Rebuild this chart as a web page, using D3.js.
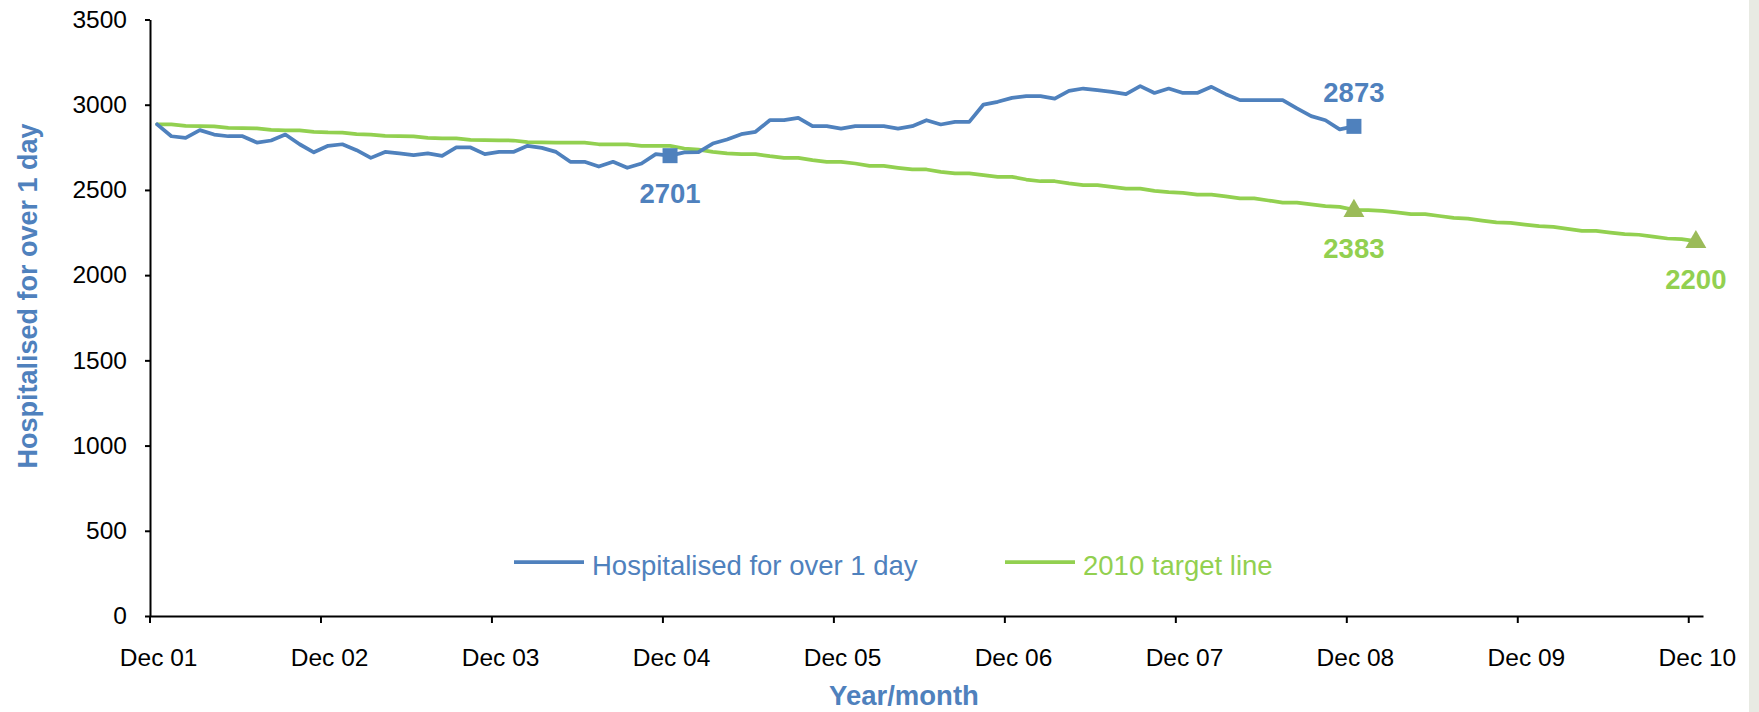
<!DOCTYPE html>
<html>
<head>
<meta charset="utf-8">
<script src="https://cdn.jsdelivr.net/npm/d3@7"></script>
<style>
  body { margin: 0; background: #fff; }
  svg { display: block; font-family: "Liberation Sans", Arial, sans-serif; }
</style>
</head>
<body>
<svg id="chart" width="1759" height="712"></svg>
<script>
// months Dec 01 .. Dec 10 (109 monthly categories)
const tickIndex = [0, 12, 24, 36, 48, 60, 72, 84, 96, 108];
const tickLabels = ["Dec 01", "Dec 02", "Dec 03", "Dec 04", "Dec 05", "Dec 06", "Dec 07", "Dec 08", "Dec 09", "Dec 10"];
const yTicks = [0, 500, 1000, 1500, 2000, 2500, 3000, 3500];

const hospitalised = [
  2885, 2815, 2806, 2851, 2825, 2815, 2815, 2778, 2790, 2825, 2768, 2721,
  2759, 2768, 2733, 2688, 2723, 2714, 2704, 2714, 2700, 2749, 2749, 2710,
  2723, 2723, 2759, 2747, 2723, 2665, 2665, 2637, 2665, 2630, 2655, 2710,
  2701, 2720, 2722, 2772, 2796, 2827, 2841, 2909, 2909, 2923, 2874, 2874,
  2860, 2874, 2874, 2874, 2860, 2874, 2909, 2884, 2899, 2899, 3001, 3017,
  3040, 3050, 3050, 3036, 3081, 3095, 3085, 3075, 3062, 3109, 3069, 3095,
  3069, 3069, 3105, 3062, 3027, 3027, 3027, 3027, 2978, 2933, 2909, 2855,
  2873
];

const target = [
  2885, 2884, 2876, 2874, 2873, 2864, 2862, 2861, 2852, 2850, 2849, 2840,
  2837, 2836, 2827, 2825, 2817, 2815, 2814, 2805, 2803, 2802, 2794, 2792,
  2791, 2790, 2781, 2779, 2778, 2778, 2777, 2768, 2768, 2767, 2759, 2759,
  2758, 2743, 2737, 2723, 2714, 2710, 2710, 2698, 2688, 2688, 2675, 2665,
  2665, 2655, 2641, 2641, 2630, 2620, 2620, 2606, 2597, 2597, 2587, 2577,
  2577, 2561, 2551, 2551, 2538, 2528, 2528, 2518, 2508, 2508, 2495, 2487,
  2483, 2473, 2473, 2462, 2450, 2450, 2438, 2426, 2426, 2415, 2405, 2401,
  2383, 2381, 2377, 2368, 2358, 2358, 2347, 2336, 2332, 2320, 2309, 2307,
  2297, 2288, 2283, 2272, 2260, 2260, 2250, 2241, 2237, 2226, 2215, 2211,
  2200
];

// highlighted points: month index and value
const hospMarkIndex = [36, 84];
const hospMarkValue = [2701, 2873];
const targetMarkIndex = [84, 108];
const targetMarkValue = [2383, 2200];

const seriesNames = ["Hospitalised for over 1 day", "2010 target line"];

const blue = "#4f81bd";
const green = "#92d050";
const olive = "#9bbb59";
const font = "\"Liberation Sans\", Arial, sans-serif";

const svg = d3.select("#chart");

svg.append("rect")
    .attr("x", 1749).attr("y", 0)
    .attr("width", 10).attr("height", 712)
    .attr("fill", "#e8eae3");

const x = d3.scaleBand()
    .domain(d3.range(target.length))
    .range([150, 1703]);
const bw = x.bandwidth();
const cx = i => x(i) + bw / 2;

const y = d3.scaleLinear()
    .domain([0, 3500])
    .range([616, 19.5]);

// y axis
const yAxis = svg.append("g")
    .attr("transform", "translate(150,0)")
    .call(d3.axisLeft(y)
        .tickValues(yTicks)
        .tickFormat(d3.format("d"))
        .tickSize(5)
        .tickSizeOuter(0)
        .tickPadding(18));
yAxis.select(".domain").attr("stroke", "#000").attr("stroke-width", 2);
yAxis.selectAll(".tick line").attr("stroke", "#000").attr("stroke-width", 2);
yAxis.selectAll(".tick text")
    .attr("font-family", font)
    .attr("font-size", "24.5px")
    .attr("fill", "#000");

// x axis
const xAxis = svg.append("g")
    .attr("transform", "translate(0,616)")
    .call(d3.axisBottom(x)
        .tickValues(tickIndex)
        .tickFormat((d, k) => tickLabels[k])
        .tickSize(7)
        .tickSizeOuter(0));
xAxis.select(".domain").attr("stroke", "#000").attr("stroke-width", 2);
xAxis.selectAll(".tick line")
    .attr("x1", -bw / 2).attr("x2", -bw / 2)
    .attr("stroke", "#000").attr("stroke-width", 2);
xAxis.selectAll(".tick text")
    .attr("y", 50).attr("dy", 0).attr("dx", 1.5)
    .attr("font-family", font)
    .attr("font-size", "24.5px")
    .attr("fill", "#000");

// axis titles
svg.append("text")
    .attr("transform", "translate(37,296) rotate(-90)")
    .attr("text-anchor", "middle")
    .attr("font-family", font)
    .attr("font-weight", "bold")
    .attr("font-size", "27px")
    .attr("fill", blue)
    .text("Hospitalised for over 1 day");

svg.append("text")
    .attr("x", 904).attr("y", 705)
    .attr("text-anchor", "middle")
    .attr("font-family", font)
    .attr("font-weight", "bold")
    .attr("font-size", "27.5px")
    .attr("fill", blue)
    .text("Year/month");

// lines
const line = d3.line()
    .x((d, i) => cx(i))
    .y(d => y(d));

svg.append("path")
    .datum(target)
    .attr("d", line)
    .attr("fill", "none")
    .attr("stroke", green)
    .attr("stroke-width", 3.75)
    .attr("stroke-linejoin", "round")
    .attr("stroke-linecap", "round");

svg.append("path")
    .datum(hospitalised)
    .attr("d", line)
    .attr("fill", "none")
    .attr("stroke", blue)
    .attr("stroke-width", 3.75)
    .attr("stroke-linejoin", "round")
    .attr("stroke-linecap", "round");

// markers + labels
const sq = d3.symbol().type(d3.symbolSquare).size(225);
const tri = d3.symbol().type(d3.symbolTriangle).size(190);

hospMarkIndex.forEach((idx, k) => {
    const px = cx(idx), py = y(hospMarkValue[k]);
    svg.append("path")
        .attr("d", sq())
        .attr("transform", `translate(${px},${py})`)
        .attr("fill", blue);
    svg.append("text")
        .attr("x", px).attr("y", k === 0 ? py + 47 : py - 24)
        .attr("text-anchor", "middle")
        .attr("font-family", font)
        .attr("font-weight", "bold")
        .attr("font-size", "27.5px")
        .attr("fill", blue)
        .text(hospMarkValue[k]);
});

targetMarkIndex.forEach((idx, k) => {
    const px = cx(idx), py = y(targetMarkValue[k]);
    svg.append("path")
        .attr("d", tri())
        .attr("transform", `translate(${px},${py + 1})`)
        .attr("fill", olive);
    svg.append("text")
        .attr("x", px).attr("y", py + 48)
        .attr("text-anchor", "middle")
        .attr("font-family", font)
        .attr("font-weight", "bold")
        .attr("font-size", "27.5px")
        .attr("fill", green)
        .text(targetMarkValue[k]);
});

// legend
const legendX = [514, 1005];
[blue, green].forEach((c, k) => {
    svg.append("line")
        .attr("x1", legendX[k]).attr("x2", legendX[k] + 70)
        .attr("y1", 562).attr("y2", 562)
        .attr("stroke", c)
        .attr("stroke-width", 3.75);
    svg.append("text")
        .attr("x", legendX[k] + 78).attr("y", 575)
        .attr("font-family", font)
        .attr("font-size", "27.5px")
        .attr("fill", c)
        .text(seriesNames[k]);
});
</script>
</body>
</html>
